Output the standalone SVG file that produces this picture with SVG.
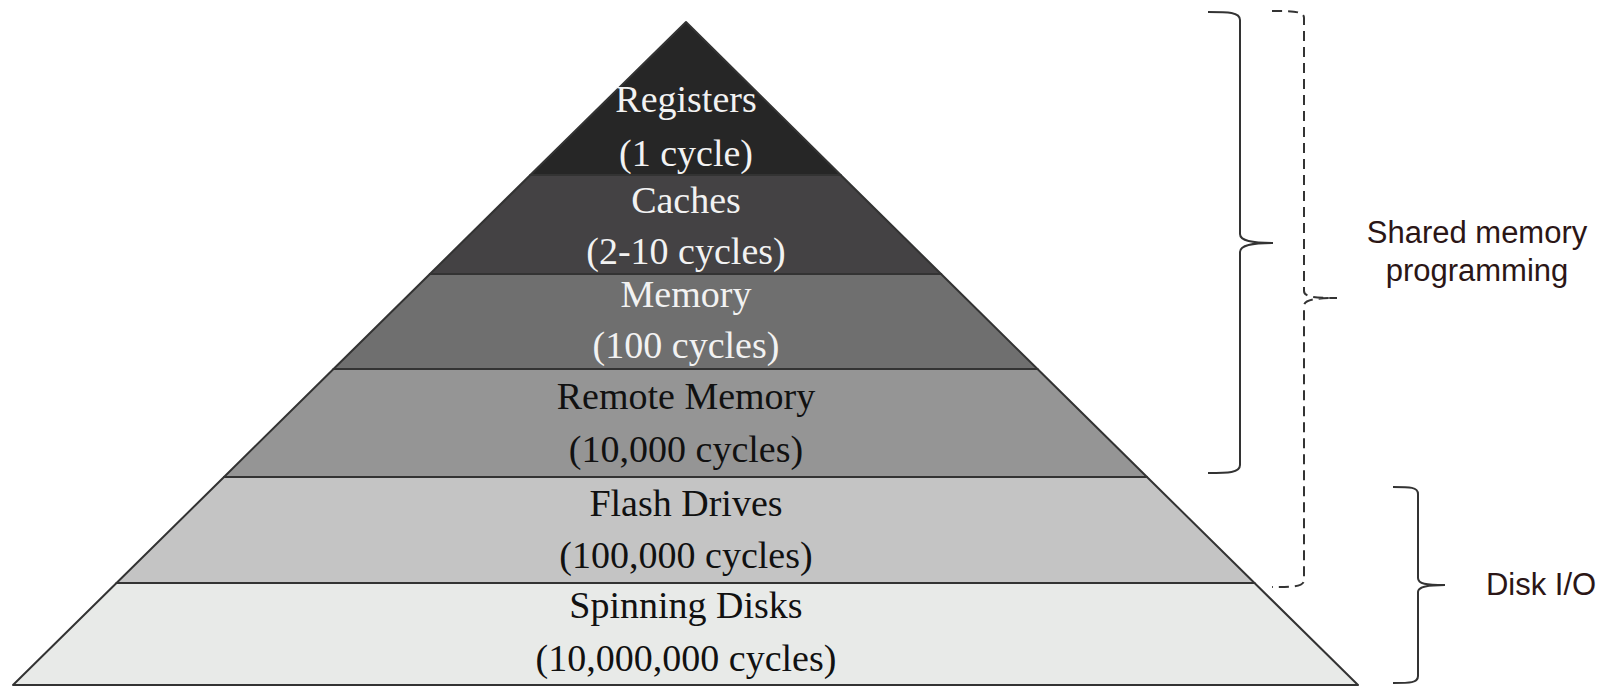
<svg xmlns="http://www.w3.org/2000/svg" width="1612" height="687" viewBox="0 0 1612 687">
<style>
.layer{stroke:#333;stroke-width:2;stroke-linejoin:round}
.lbl{font-family:"Liberation Serif","Times New Roman",serif;font-size:38px;text-anchor:middle}
.light{fill:#f2f2f2}
.dark{fill:#111}
.brace{fill:none;stroke:#333;stroke-width:2}
.dash{stroke-dasharray:10 6}
.note{font-family:"Liberation Sans",Arial,sans-serif;font-size:31px;fill:#2b1616;text-anchor:middle}
</style>
<rect width="1612" height="687" fill="#fff"/>
<g id="registers">
<polygon class="layer" points="686,22 840.7,175 530.3,175" fill="#262626"/>
<text class="lbl light" x="686" y="112">Registers</text>
<text class="lbl light" x="686" y="166">(1 cycle)</text>
</g>
<g id="caches">
<polygon class="layer" points="530.3,175 840.7,175 941.1,274 429.9,274" fill="#444244"/>
<text class="lbl light" x="686" y="213">Caches</text>
<text class="lbl light" x="686" y="264">(2-10 cycles)</text>
</g>
<g id="memory">
<polygon class="layer" points="429.9,274 941.1,274 1037.5,369 333.5,369" fill="#6f6f6f"/>
<text class="lbl light" x="686" y="307">Memory</text>
<text class="lbl light" x="686" y="358">(100 cycles)</text>
</g>
<g id="remote-memory">
<polygon class="layer" points="333.5,369 1037.5,369 1147,477 224,477" fill="#959595"/>
<text class="lbl dark" x="686" y="409">Remote Memory</text>
<text class="lbl dark" x="686" y="462">(10,000 cycles)</text>
</g>
<g id="flash-drives">
<polygon class="layer" points="224,477 1147,477 1254.5,583 116.5,583" fill="#c4c4c4"/>
<text class="lbl dark" x="686" y="516">Flash Drives</text>
<text class="lbl dark" x="686" y="568">(100,000 cycles)</text>
</g>
<g id="spinning-disks">
<polygon class="layer" points="116.5,583 1254.5,583 1358,685 13,685" fill="#e8eae8"/>
<text class="lbl dark" x="686" y="618">Spinning Disks</text>
<text class="lbl dark" x="686" y="671">(10,000,000 cycles)</text>
</g>
<g id="connectors">
<path class="brace" d="M1208,12 C1228,12 1240,12 1240,20 L1240,234 C1240,241 1252,243 1273,243 C1252,243 1240,245 1240,252 L1240,465 C1240,473 1228,473 1208,473"/>
<path class="brace dash" d="M1272,11 C1292,11 1304,11 1304,18 L1304,291 C1304,297 1314,298 1337,298 C1314,298 1304,300 1304,306 L1304,580 C1304,587 1292,587 1272,587"/>
<path class="brace" d="M1393,487 C1410,487 1418,487 1418,494 L1418,578 C1418,584 1426,585 1445,585 C1426,585 1418,587 1418,592 L1418,676 C1418,683 1410,683 1393,683"/>
</g>
<g id="shared-memory-label">
<text class="note" x="1477" y="243">Shared memory</text>
<text class="note" x="1477" y="281">programming</text>
</g>
<g id="disk-io-label">
<text class="note" x="1541" y="595">Disk I/O</text>
</g>
</svg>
